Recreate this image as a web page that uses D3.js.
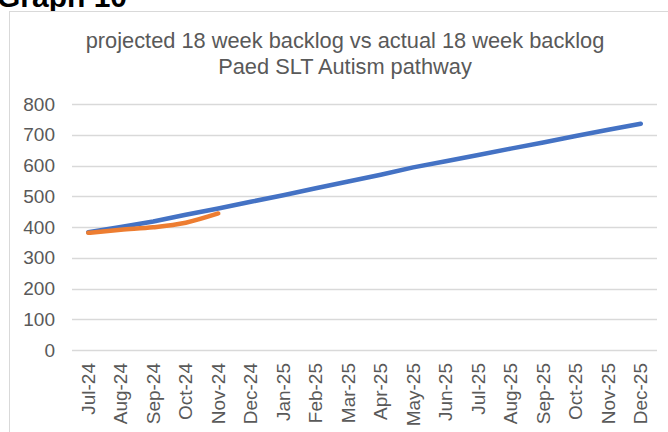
<!DOCTYPE html>
<html>
<head>
<meta charset="utf-8">
<script src="https://cdn.jsdelivr.net/npm/d3@7"></script>
<style>
  body { margin: 0; background: #fff; }
  svg { display: block; font-family: "Liberation Sans", Arial, sans-serif; }
</style>
</head>
<body>
<script>
// chart data
var months = ["Jul-24", "Aug-24", "Sep-24", "Oct-24", "Nov-24", "Dec-24", "Jan-25", "Feb-25", "Mar-25",
  "Apr-25", "May-25", "Jun-25", "Jul-25", "Aug-25", "Sep-25", "Oct-25", "Nov-25", "Dec-25"];
var projected = [383, 400, 418, 440, 460, 482, 503, 526, 548, 570, 594, 614, 634, 655, 675, 696, 716, 736];
var actual = [381, 391, 399, 414, 444];
var yTicks = [0, 100, 200, 300, 400, 500, 600, 700, 800];
var titleLines = ["projected 18 week backlog vs actual 18 week backlog", "Paed SLT Autism pathway"];

var width = 668;
var height = 432;

// plot area
var plotLeft = 72;
var plotRight = 657;
var plotTop = 104;
var plotBottom = 350;

var svg = d3.select("body")
  .append("svg")
  .attr("width", width)
  .attr("height", height);

// heading above the chart box, cut by the top edge
svg.append("text")
  .attr("x", -3)
  .attr("y", 7)
  .attr("font-size", "30px")
  .attr("font-weight", "700")
  .attr("fill", "#000")
  .text("Graph 10");

// chart box
svg.append("rect")
  .attr("x", 9.5)
  .attr("y", 11.5)
  .attr("width", 680)
  .attr("height", 440)
  .style("fill", "#fff")
  .style("stroke", "#d9d9d9");

// title
svg.append("g").selectAll("text")
  .data(titleLines)
  .join("text")
  .attr("x", 345)
  .attr("y", function(d, i) { return 48 + i * 26; })
  .attr("text-anchor", "middle")
  .attr("font-size", "21.8px")
  .attr("fill", "#595959")
  .text(function(d) { return d; });

// scales
var x = d3.scaleBand()
  .domain(months)
  .range([plotLeft, plotRight]);

var y = d3.scaleLinear()
  .domain([0, 800])
  .range([plotBottom, plotTop]);

function cx(d) { return x(d) + x.bandwidth() / 2; }

// gridlines
svg.append("g").selectAll("line")
  .data(yTicks)
  .join("line")
  .attr("x1", plotLeft)
  .attr("x2", plotRight)
  .attr("y1", function(d) { return Math.round(y(d)) + 0.5; })
  .attr("y2", function(d) { return Math.round(y(d)) + 0.5; })
  .style("stroke", "#d9d9d9")
  .style("stroke-width", 1.3);

// y axis labels
var yAxis = d3.axisLeft(y)
  .tickValues(yTicks)
  .tickSize(0)
  .tickPadding(17);

var gy = svg.append("g")
  .attr("transform", "translate(" + plotLeft + ",0)")
  .call(yAxis);
gy.select(".domain").remove();
gy.selectAll("text")
  .attr("font-size", "19px")
  .attr("font-family", "Liberation Sans, Arial, sans-serif")
  .attr("fill", "#595959");

// x axis labels, rotated
var xAxis = d3.axisBottom(x)
  .tickSize(0)
  .tickPadding(0);

var gx = svg.append("g")
  .attr("transform", "translate(0," + plotBottom + ")")
  .call(xAxis);
gx.select(".domain").remove();
gx.selectAll("text")
  .attr("font-size", "19px")
  .attr("font-family", "Liberation Sans, Arial, sans-serif")
  .attr("fill", "#595959")
  .attr("text-anchor", "end")
  .attr("dy", "0.35em")
  .attr("transform", "translate(0,13) rotate(-90)")
  .attr("x", 0)
  .attr("y", 0);

// lines
var line = d3.line()
  .x(function(d, i) { return cx(months[i]); })
  .y(function(d) { return y(d); });

svg.append("path")
  .datum(projected)
  .attr("d", line)
  .style("fill", "none")
  .style("stroke", "#4472c4")
  .style("stroke-width", 4.5)
  .style("stroke-linecap", "round")
  .style("stroke-linejoin", "round");

svg.append("path")
  .datum(actual)
  .attr("d", line.curve(d3.curveMonotoneX))
  .style("fill", "none")
  .style("stroke", "#ed7d31")
  .style("stroke-width", 4.5)
  .style("stroke-linecap", "round")
  .style("stroke-linejoin", "round");
</script>
</body>
</html>
